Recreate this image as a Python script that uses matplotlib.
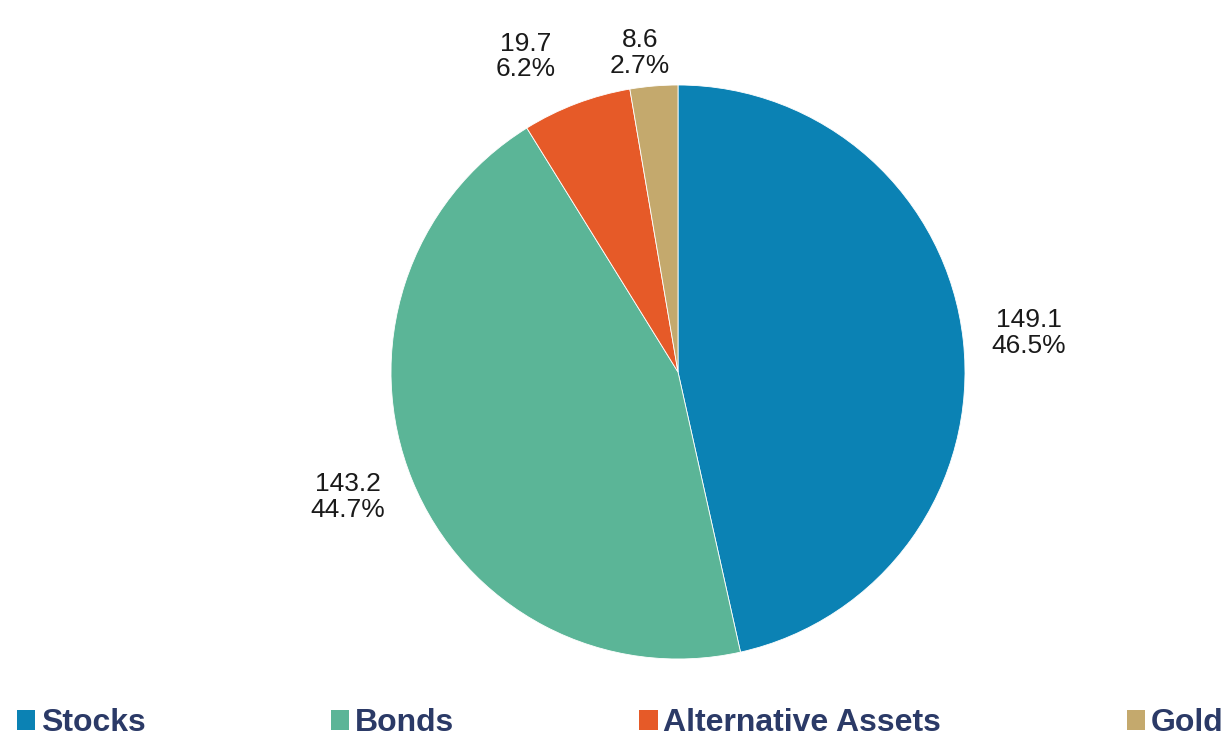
import matplotlib.pyplot as plt
from matplotlib.patches import Patch
import numpy as np

# data
categories = ["Stocks", "Bonds", "Alternative Assets", "Gold"]
values = [149.1, 143.2, 19.7, 8.6]
pct_labels = ["46.5%", "44.7%", "6.2%", "2.7%"]
colors = ["#0b82b4", "#5bb597", "#e65a28", "#c4a96d"]

# label placement: distance (pie radii) and angle nudge (deg) per slice
label_dist = [1.23, 1.23, 1.22, 1.12]
label_nudge = [0, -1.5, 5, 2]

plt.rcParams['font.family'] = ['Liberation Sans', 'DejaVu Sans']

W, H = 1232, 738
fig = plt.figure(figsize=(W / 100, H / 100), dpi=100)
cx, cy, r = 678, 366, 287  # pie centre / radius in pixels (cy from bottom)
ax = fig.add_axes([(cx - r) / W, (cy - r) / H, 2 * r / W, 2 * r / H])

wedges, _ = ax.pie(values, colors=colors, startangle=90, counterclock=False,
                   radius=1, wedgeprops=dict(edgecolor="white", linewidth=0.6))
ax.set_xlim(-1, 1)
ax.set_ylim(-1, 1)
ax.axis("off")

for w, v, p, d, nd in zip(wedges, values, pct_labels, label_dist, label_nudge):
    ang = np.deg2rad((w.theta1 + w.theta2) / 2 + nd)
    ax.text(d * np.cos(ang), d * np.sin(ang), "%.1f\n%s" % (v, p),
            ha="center", va="center", fontsize=19, color="#1a1a1a",
            linespacing=1.1)

handles = [Patch(facecolor=c, edgecolor="none") for c in colors]
leg = fig.legend(handles, categories, loc="center left",
                 bbox_to_anchor=(17 / W, 1 - 723 / H), ncol=4, frameon=False,
                 fontsize=23.0, handlelength=0.57, handleheight=0.57,
                 handletextpad=0.18, columnspacing=5.8, borderpad=0,
                 borderaxespad=0)
for t in leg.get_texts():
    t.set_fontweight("bold")
    t.set_color("#2b3a67")

plt.savefig("out.png", dpi=100)
